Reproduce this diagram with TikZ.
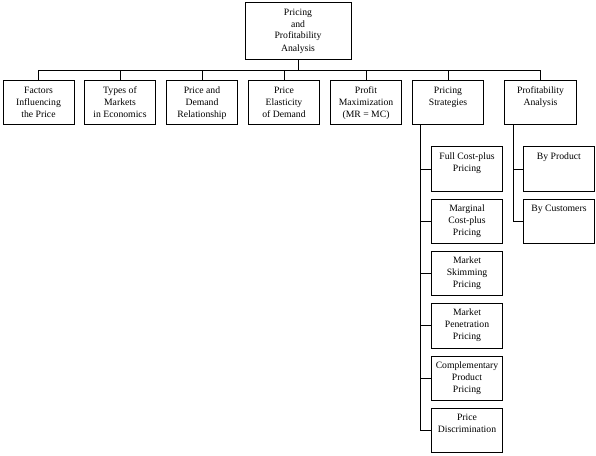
\documentclass[tikz,border=0pt]{standalone}
\usepackage{fontspec}
\setmainfont{Liberation Serif}
\newcommand\bxt[3]{\parbox[c][#2][t]{#1}{\fontsize{9.7}{12}\selectfont\centering\rule{0pt}{12.3pt}#3}}
\tikzset{
  box/.style={draw, line width=0.8pt, inner sep=0pt, outer sep=0pt, anchor=north west},
  conn/.style={line width=0.8pt},
}
\begin{document}
\begin{tikzpicture}[x=1pt,y=-1pt]
\useasboundingbox (0,0) rectangle (596,455);
% top
\node[box] (top) at (245,2.7) {\bxt{106pt}{56.6pt}{Pricing\\and\\Profitability\\Analysis}};
% children
\node[box] (b1) at (3,80.7)     {\bxt{71pt}{44pt}{Factors\\Influencing\\the Price}};
\node[box] (b2) at (84.5,80.7)  {\bxt{71pt}{44pt}{Types of\\Markets\\in Economics}};
\node[box] (b3) at (166.5,80.7) {\bxt{71pt}{44pt}{Price and\\Demand\\Relationship}};
\node[box] (b4) at (248.5,80.7) {\bxt{71pt}{44pt}{Price\\Elasticity\\of Demand}};
\node[box] (b5) at (330.5,80.7) {\bxt{71pt}{44pt}{Profit\\Maximization\\(MR = MC)}};
\node[box] (b6) at (412.5,80.7) {\bxt{71pt}{44pt}{Pricing\\Strategies}};
\node[box] (b7) at (504.5,80.7) {\bxt{72pt}{44pt}{Profitability\\Analysis}};
% pricing strategies subs
\node[box] (s1) at (431.7,146.7) {\bxt{70.6pt}{44.5pt}{Full Cost-plus\\Pricing}};
\node[box] (s2) at (431.7,199.0) {\bxt{70.6pt}{44.5pt}{Marginal\\Cost-plus\\Pricing}};
\node[box] (s3) at (431.7,251.3) {\bxt{70.6pt}{44.5pt}{Market\\Skimming\\Pricing}};
\node[box] (s4) at (431.7,303.6) {\bxt{70.6pt}{44.5pt}{Market\\Penetration\\Pricing}};
\node[box] (s5) at (431.7,355.9) {\bxt{70.6pt}{44.5pt}{Complementary\\Product\\Pricing}};
\node[box] (s6) at (431.7,408.2) {\bxt{70.6pt}{44.5pt}{Price\\Discrimination}};
% profitability subs
\node[box] (p1) at (523.5,146.7) {\bxt{70.8pt}{44.5pt}{By Product}};
\node[box] (p2) at (523.5,199.0) {\bxt{70.8pt}{44.5pt}{By Customers}};
% connectors
\coordinate (bus) at (top.south |- 0,70);
\draw[conn] (top.south) -- (bus);
\foreach \n in {b1,b2,b3,b4,b5,b6,b7}
  \draw[conn] (\n.north) |- (bus);
\coordinate (sv) at ([xshift=8.3pt]b6.south west);
\foreach \n in {s1,s2,s3,s4,s5,s6}
  \draw[conn] (sv) |- (\n.west);
\coordinate (pv) at ([xshift=8.8pt]b7.south west);
\foreach \n in {p1,p2}
  \draw[conn] (pv) |- (\n.west);
\end{tikzpicture}
\end{document}
